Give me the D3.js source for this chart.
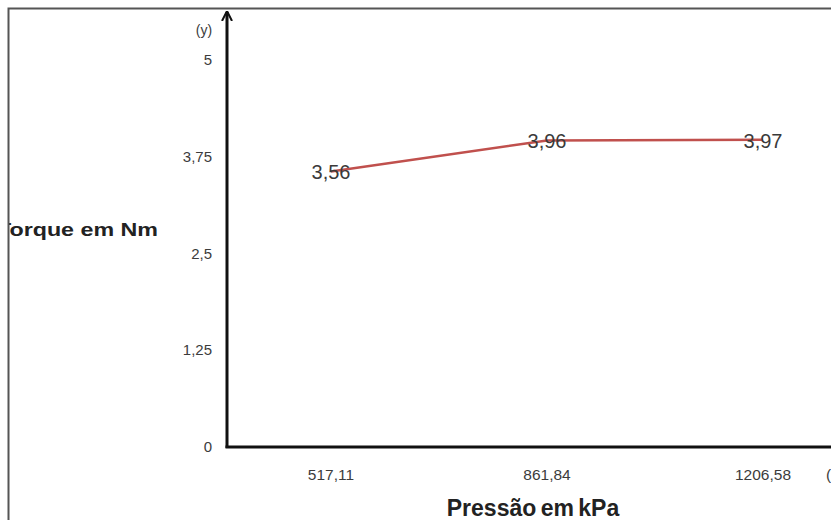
<!DOCTYPE html>
<html>
<head>
<meta charset="utf-8">
<script src="https://cdn.jsdelivr.net/npm/d3@7/dist/d3.min.js"></script>
<style>
  html, body { margin: 0; padding: 0; background: #fff; }
  svg { display: block; }
</style>
</head>
<body>
<svg id="chart" width="831" height="520"></svg>
<script>
// Pressure levels (kPa) and measured torque (Nm)
const pressures = ["517,11", "861,84", "1206,58"];
const torques = [3.56, 3.96, 3.97];
const yTicks = [0, 1.25, 2.5, 3.75, 5];
const yTickLabels = ["0", "1,25", "2,5", "3,75", "5"];

const FONT = "Liberation Sans, Arial, Helvetica, sans-serif";
const svg = d3.select("#chart");
const defs = svg.append("defs");

// everything inside the frame is clipped to it
defs.append("clipPath").attr("id", "frame-clip")
  .append("rect").attr("x", 9).attr("y", 9).attr("width", 822).attr("height", 511);

const x0 = 227, yBase = 447;
const x = d3.scalePoint().domain(pressures).range([331, 763]);
const y = d3.scaleLinear().domain([0, 5]).range([yBase, 60]);

// y-axis tick labels
svg.append("g").selectAll("text").data(yTicks).join("text")
  .attr("x", 212).attr("y", d => y(d) + 5)
  .attr("text-anchor", "end")
  .attr("font-family", FONT)
  .attr("font-size", 15).attr("fill", "#3c3c3c")
  .text((d, i) => yTickLabels[i]);

// x-axis tick labels
svg.append("g").selectAll("text").data(pressures).join("text")
  .attr("x", d => x(d)).attr("y", 480)
  .attr("text-anchor", "middle")
  .attr("font-family", FONT)
  .attr("font-size", 15.5).attr("fill", "#3c3c3c")
  .text(d => d);

// axes with arrows
defs.append("marker")
  .attr("id", "arrow").attr("viewBox", "0 0 10 10")
  .attr("refX", 9).attr("refY", 5)
  .attr("markerWidth", 10).attr("markerHeight", 12)
  .attr("markerUnits", "userSpaceOnUse")
  .attr("orient", "auto")
  .append("path").attr("d", "M0,0 L10,5 L0,10").attr("fill", "none")
  .attr("stroke", "#111").attr("stroke-width", 2);

svg.append("line")
  .attr("x1", x0).attr("y1", yBase + 1).attr("x2", x0).attr("y2", 12)
  .attr("stroke", "#111").attr("stroke-width", 3)
  .attr("marker-end", "url(#arrow)");
svg.append("line")
  .attr("x1", x0 - 1.5).attr("y1", yBase).attr("x2", 840).attr("y2", yBase)
  .attr("stroke", "#111").attr("stroke-width", 3)
  .attr("marker-end", "url(#arrow)");

// axis names
svg.append("text").attr("x", 204).attr("y", 35).attr("text-anchor", "middle")
  .attr("font-family", FONT)
  .attr("font-size", 14).attr("fill", "#3c3c3c").text("(y)");
svg.append("text").attr("x", 826).attr("y", 480)
  .attr("font-family", FONT)
  .attr("font-size", 15.5).attr("fill", "#3c3c3c").text("(x)");

// y-axis name starts under the left edge of the frame
svg.append("g").attr("clip-path", "url(#frame-clip)")
  .append("text").attr("x", -3).attr("y", 236)
  .attr("font-family", FONT)
  .attr("font-weight", "bold").attr("font-size", 19).attr("fill", "#222")
  .attr("textLength", 161).attr("lengthAdjust", "spacingAndGlyphs")
  .text("Torque em Nm");
svg.append("text").attr("x", 533).attr("y", 516).attr("text-anchor", "middle")
  .attr("font-family", FONT)
  .attr("font-weight", "bold").attr("font-size", 23).attr("fill", "#222")
  .attr("word-spacing", -2)
  .text("Pressão em kPa");

// torque line
const line = d3.line().x((d, i) => x(pressures[i])).y(d => y(d));
svg.append("path").datum(torques)
  .attr("d", line).attr("fill", "none")
  .attr("stroke", "#c0504d").attr("stroke-width", 2.5)
  .attr("stroke-linejoin", "round");

// value labels on each point
svg.append("g").selectAll("text").data(torques).join("text")
  .attr("x", (d, i) => x(pressures[i])).attr("y", d => y(d) + 8)
  .attr("text-anchor", "middle")
  .attr("font-family", FONT)
  .attr("font-size", 20).attr("fill", "#3a3a3a")
  .text(d => d.toFixed(2).replace(".", ","));

// frame around the figure (right and bottom run off the page)
svg.append("path")
  .attr("d", "M8.5,520 V8.5 H831")
  .attr("fill", "none").attr("stroke", "#555").attr("stroke-width", 2);
</script>
</body>
</html>
